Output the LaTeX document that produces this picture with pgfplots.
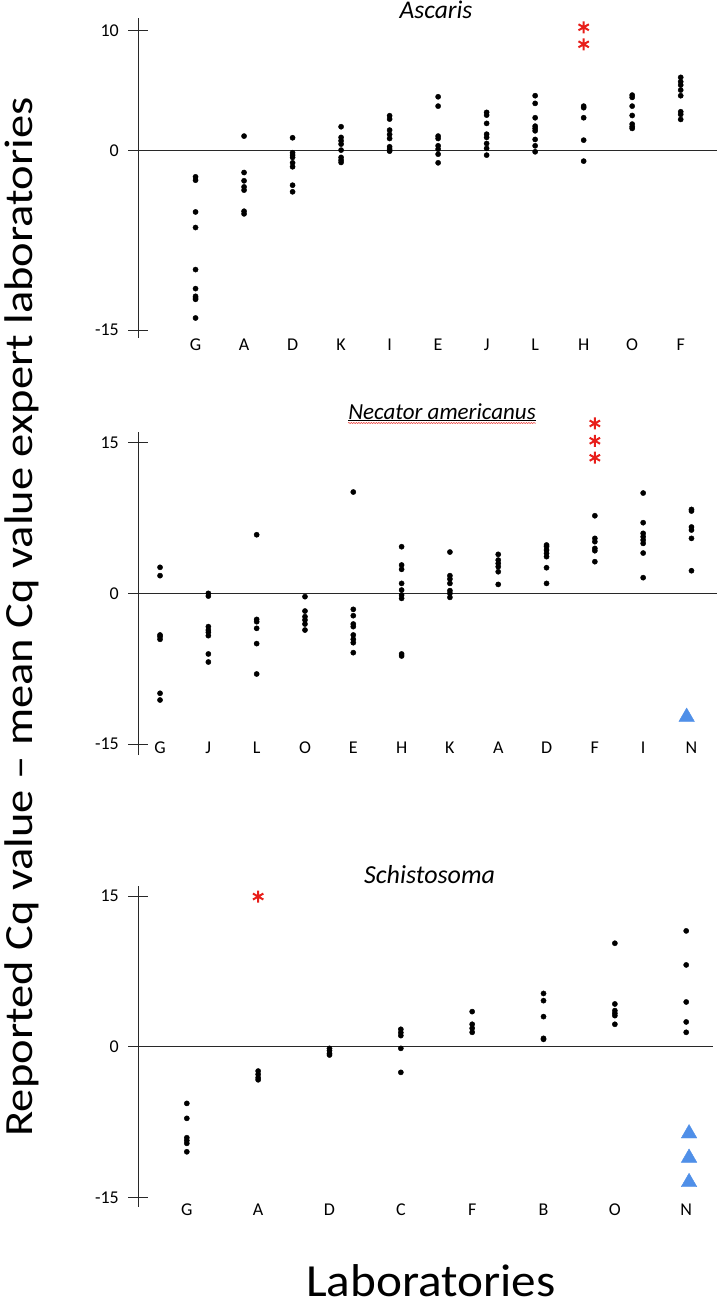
\documentclass[border=0pt]{standalone}
\usepackage{fontspec}
\setmainfont{Carlito}
\usepackage{graphicx}
\usepackage{pgfplots}
\pgfplotsset{compat=1.18}
\usetikzlibrary{decorations.pathmorphing}
\definecolor{starred}{RGB}{232,30,26}
\definecolor{triblue}{RGB}{79,143,232}
\definecolor{axisgray}{RGB}{40,40,40}
\pgfplotsset{
  panel/.style={
    scale only axis,
    axis x line=bottom, axis y line=left,
    axis line style={-, draw=axisgray, line width=0.8pt},
    x axis line style={draw=none},
    xtick style={draw=none},
    ytick style={draw=axisgray, line width=0.8pt},
    tick align=center,
    major tick length=20pt,
    tick label style={font=\fontsize{18}{21}\selectfont},
    yticklabel style={anchor=east, inner sep=0pt, xshift=-9.3pt},
    clip=false,
  },
  dot/.style={only marks, mark=*, mark size=2.6pt, color=black},
  star/.style={only marks, mark=asterisk, mark size=6pt, color=starred, mark options={line width=2pt}},
  tri/.style={only marks, mark=triangle*, mark size=9pt, color=triblue},
  zero/.style={draw=axisgray, line width=0.8pt, no marks},
}
\begin{document}
\begin{tikzpicture}[x=1pt,y=1pt]
\path[use as bounding box] (0,0) rectangle (719,-1305);

% ---------------- Panel 1: Ascaris ----------------
\begin{axis}[panel, at={(138.3pt,-338pt)}, anchor=south west,
  width=578.3pt, height=319.7pt,
  xmin=-1.18, xmax=10.74, ymin=-15.65, ymax=11.03,
  ytick={-15,0,10}, yticklabels={-15,0,10},
  xtick={0,...,10}, xticklabels={G,A,D,K,I,E,J,L,H,O,F},
  xticklabel style={anchor=base, yshift=-2.7pt}]
\addplot[zero] coordinates {(-1.18,0) (10.74,0)};
\addplot[dot] coordinates {
(0,-2.20) (0,-2.48) (0,-5.13) (0,-6.43) (0,-9.94) (0,-11.53) (0,-12.17) (0,-12.31) (0,-12.42) (0,-13.98)
(1,1.20) (1,-1.84) (1,-2.53) (1,-3.04) (1,-3.31) (1,-5.07) (1,-5.29)
(2,1.06) (2,-0.19) (2,-0.39) (2,-0.58) (2,-1.03) (2,-1.36) (2,-2.90) (2,-3.45)
(3,1.98) (3,1.09) (3,0.81) (3,0.53) (3,0.03) (3,-0.58) (3,-0.81) (3,-1.00)
(4,2.90) (4,2.62) (4,1.70) (4,1.34) (4,1.00) (4,0.31) (4,0.11) (4,-0.06)
(5,4.48) (5,3.70) (5,1.20) (5,1.00) (5,0.39) (5,0.11) (5,-0.31) (5,-1.03)
(6,3.18) (6,2.95) (6,2.26) (6,1.36) (6,1.09) (6,0.58) (6,0.17) (6,-0.39)
(7,4.57) (7,3.93) (7,2.73) (7,2.03) (7,1.84) (7,1.64) (7,0.92) (7,0.39) (7,-0.11)
(8,3.70) (8,3.57) (8,2.73) (8,0.86) (8,-0.89)
(9,4.62) (9,4.43) (9,3.70) (9,2.92) (9,2.20) (9,1.98) (9,1.84)
(10,6.10) (10,5.74) (10,5.46) (10,5.04) (10,4.57) (10,3.23) (10,3.01) (10,2.59)
};
\addplot[star] coordinates {(8,10.28) (8,8.86)};
\end{axis}

% ---------------- Panel 2: Necator americanus ----------------
\begin{axis}[panel, at={(138.3pt,-755pt)}, anchor=south west,
  width=578.3pt, height=323.3pt,
  xmin=-0.45, xmax=11.52, ymin=-16.08, ymax=16.08,
  ytick={-15,0,15}, yticklabels={-15,0,15},
  xtick={0,...,11}, xticklabels={G,J,L,O,E,H,K,A,D,F,I,N},
  xticklabel style={anchor=base, yshift=11.7pt}]
\addplot[zero] coordinates {(-0.45,0) (11.52,0)};
\addplot[dot] coordinates {
(0,2.59) (0,1.76) (0,-4.14) (0,-4.31) (0,-4.57) (0,-9.94) (0,-10.61)
(1,0) (1,-0.27) (1,-3.31) (1,-3.65) (1,-3.88) (1,-4.21) (1,-6.03) (1,-6.83)
(2,5.83) (2,-2.59) (2,-2.82) (2,-3.48) (2,-5.00) (2,-8.02)
(3,-0.33) (3,-1.76) (3,-2.32) (3,-2.65) (3,-3.05) (3,-3.65)
(4,10.08) (4,-1.59) (4,-2.22) (4,-3.05) (4,-3.31) (4,-4.14) (4,-4.57) (4,-4.91) (4,-5.90)
(5,4.64) (5,2.82) (5,2.39) (5,0.99) (5,0.33) (5,-0.17) (5,-0.50) (5,-6.03) (5,-6.23)
(6,4.11) (6,1.76) (6,1.43) (6,0.99) (6,0.27) (6,0) (6,-0.40)
(7,3.88) (7,3.31) (7,2.98) (7,2.65) (7,2.15) (7,0.89)
(8,4.81) (8,4.64) (8,4.31) (8,3.98) (8,3.65) (8,2.55) (8,0.99)
(9,7.72) (9,5.47) (9,5.14) (9,4.47) (9,4.24) (9,3.15)
(10,9.98) (10,7.03) (10,5.97) (10,5.63) (10,5.30) (10,4.97) (10,4.01) (10,1.56)
(11,8.35) (11,8.19) (11,6.60) (11,6.30) (11,5.47) (11,2.25)
};
\addplot[star] coordinates {(9,16.90) (9,15.18) (9,13.49)};
\addplot[tri] coordinates {(10.9,-12.3)};
\end{axis}

% ---------------- Panel 3: Schistosoma ----------------
\begin{axis}[panel, at={(138.3pt,-1206.7pt)}, anchor=south west,
  width=574.3pt, height=320.7pt,
  xmin=-0.68, xmax=7.37, ymin=-15.94, ymax=16.0,
  ytick={-15,0,15}, yticklabels={-15,0,15},
  xtick={0,...,7}, xticklabels={G,A,D,C,F,B,O,N},
  xticklabel style={anchor=base, yshift=1pt}]
\addplot[zero] coordinates {(-0.68,0) (7.37,0)};
\addplot[dot] coordinates {
(0,-5.65) (0,-7.14) (0,-9.07) (0,-9.35) (0,-9.63) (0,-10.47)
(1,-2.43) (1,-2.76) (1,-3.09) (1,-3.30)
(2,-0.17) (2,-0.40) (2,-0.66) (2,-0.83)
(3,1.73) (3,1.40) (3,1.10) (3,-0.17) (3,-2.56)
(4,3.49) (4,2.23) (4,1.83) (4,1.43)
(5,5.30) (5,4.58) (5,2.99) (5,0.83) (5,0.73)
(6,10.30) (6,4.25) (6,3.59) (6,3.32) (6,3.09) (6,2.23)
(7,11.53) (7,8.14) (7,4.45) (7,2.46) (7,1.43)
};
\addplot[star] coordinates {(1,14.95)};
\addplot[tri] coordinates {(7.04,-8.65) (7.04,-11.08) (7.04,-13.5)};
\end{axis}

% ---------------- Titles and labels ----------------
\node[anchor=base, inner sep=0pt] at (436,-18.3) {\fontsize{25.5}{30}\selectfont\itshape Ascaris};
\node[anchor=base, inner sep=0pt] (nt) at (442,-419) {\fontsize{23}{28}\selectfont\itshape Necator americanus};
\draw[line width=0.6pt] ([yshift=-1.5pt]nt.base west) -- ([yshift=-1.5pt]nt.base east);
\draw[starred, line width=0.5pt, decorate, decoration={snake, amplitude=0.5pt, segment length=2.5pt}]
  ([yshift=-4pt]nt.base west) -- ([yshift=-4pt]nt.base east);
\node[anchor=base, inner sep=0pt] at (326.6,-883) {};
\node[anchor=base, inner sep=0pt] at (429.6,-883) {\fontsize{26}{31}\selectfont\itshape Schistosoma};
\node[anchor=base, inner sep=0pt] at (431,-1296) {\fontsize{46}{52}\selectfont\scalebox{1.07}[1]{Laboratories}};
\node[rotate=90, anchor=base, inner sep=0pt] at (32,-617) {\fontsize{40}{46}\selectfont\scalebox{1.163}[1]{Reported Cq value – mean Cq value expert laboratories}};
\end{tikzpicture}
\end{document}
